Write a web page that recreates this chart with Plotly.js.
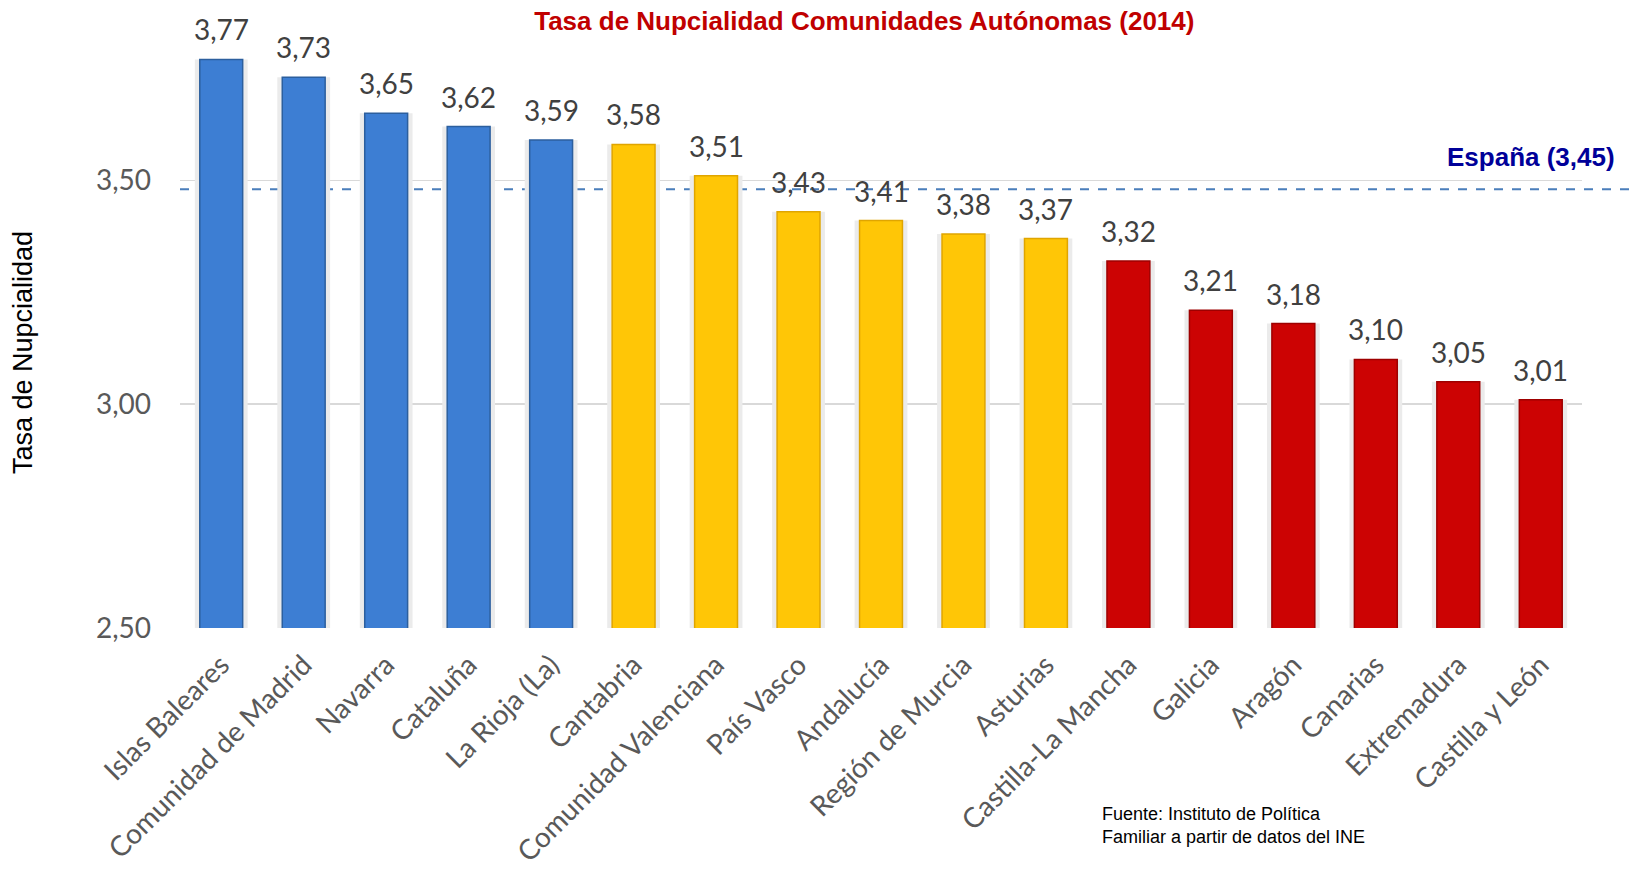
<!DOCTYPE html>
<html>
<head>
<meta charset="utf-8">
<script src="https://cdn.plot.ly/plotly-3.0.1.min.js"></script>
<style>html,body{margin:0;padding:0;background:#fff;} #chart{width:1637px;height:878px;}</style>
</head>
<body>
<div id="chart"></div>
<script>
// ---- data ----
const categories = ["Islas Baleares","Comunidad de Madrid","Navarra","Cataluña","La Rioja (La)","Cantabria","Comunidad Valenciana","País Vasco","Andalucía","Región de Murcia","Asturias","Castilla-La Mancha","Galicia","Aragón","Canarias","Extremadura","Castilla y León"];
const values = [3.77,3.73,3.65,3.62,3.59,3.58,3.51,3.43,3.41,3.38,3.37,3.32,3.21,3.18,3.10,3.05,3.01];
const groups = ["alta","alta","alta","alta","alta","media","media","media","media","media","media","baja","baja","baja","baja","baja","baja"];
const espanaValue = 3.45;          // label value
const espanaLineLevel = 3.48;      // level where the dashed line is drawn in the picture
const titleText = "Tasa de Nupcialidad Comunidades Autónomas (2014)";
const yTitleText = "Tasa de Nupcialidad";
const sourceText = "Fuente: Instituto de Política<br>Familiar a partir de datos del INE";

// ---- styles ----
const fill = {alta:"#3D7ED3", media:"#FFC606", baja:"#CC0303"};
const edge = {alta:"#2C5F9E", media:"#E0A500", baja:"#9E0000"};
const fmt = v => v.toFixed(2).replace(".", ",");
const labelFont = "Lato, 'Open Sans', sans-serif";

const shadow = {
  type:"bar", x:categories, y:values,
  marker:{color:"#EBEBEB"}, width:0.64, hoverinfo:"skip", showlegend:false
};
const bars = {
  type:"bar", x:categories, y:values, showlegend:false,
  marker:{color:groups.map(g=>fill[g]), line:{color:groups.map(g=>edge[g]), width:1.5}},
  width:0.52, hovertemplate:"%{x}: %{y:.2f}<extra></extra>"
};

const labelAnnots = categories.map((c,i)=>({
  x:c, y:values[i], xref:"x", yref:"y", text:fmt(values[i]), showarrow:false,
  yanchor:"middle", yshift:30, font:{family:labelFont, size:28, color:"#404040"}
}));

const layout = {
  width:1637, height:878,
  margin:{l:180, r:55, t:46, b:250},
  paper_bgcolor:"#fff", plot_bgcolor:"#fff",
  separators:",.",
  barmode:"overlay",
  title:{text:titleText, x:0.528, xref:"container", y:0.976, yref:"container", yanchor:"middle", xanchor:"center",
         font:{family:"Arial, 'Liberation Sans', sans-serif", size:26, color:"#C00000", weight:"bold"}},
  xaxis:{type:"category", tickangle:-45, showgrid:false, zeroline:false, showline:false, ticks:"",
         tickfont:{family:labelFont, size:28, color:"#595959"}, ticklabelstandoff:14},
  yaxis:{range:[2.5,3.8], tick0:2.5, dtick:0.5, tickformat:".2f", showgrid:true, gridcolor:"#D9D9D9", gridwidth:1.5,
         zeroline:false, showline:false, ticks:"", ticklabelstandoff:28,
         tickfont:{family:labelFont, size:28, color:"#595959"}},
  shapes:[{type:"line", xref:"paper", x0:0, x1:1.04, yref:"y", y0:espanaLineLevel, y1:espanaLineLevel,
           layer:"below", line:{color:"#4A7EBB", width:1.8, dash:"dash"}}],
  annotations: labelAnnots.concat([
    {xref:"paper", yref:"paper", x:-0.112, y:0.474, xanchor:"center", yanchor:"middle", textangle:-90, showarrow:false,
     text:yTitleText, font:{family:"Arial, 'Liberation Sans', sans-serif", size:27, color:"#000"}},
    {xref:"paper", yref:"paper", x:1.025, y:0.809, xanchor:"right", yanchor:"middle", showarrow:false,
     text:"<b>España (" + fmt(espanaValue) + ")</b>",
     font:{family:"Arial, 'Liberation Sans', sans-serif", size:26, color:"#000099"}},
    {xref:"paper", yref:"paper", x:0.656, y:-0.340, xanchor:"left", yanchor:"middle", align:"left", showarrow:false,
     text:sourceText, font:{family:"Arial, 'Liberation Sans', sans-serif", size:18, color:"#000"}}
  ])
};

Plotly.newPlot("chart", [shadow, bars], layout, {displayModeBar:false, staticPlot:true});
</script>
</body>
</html>
